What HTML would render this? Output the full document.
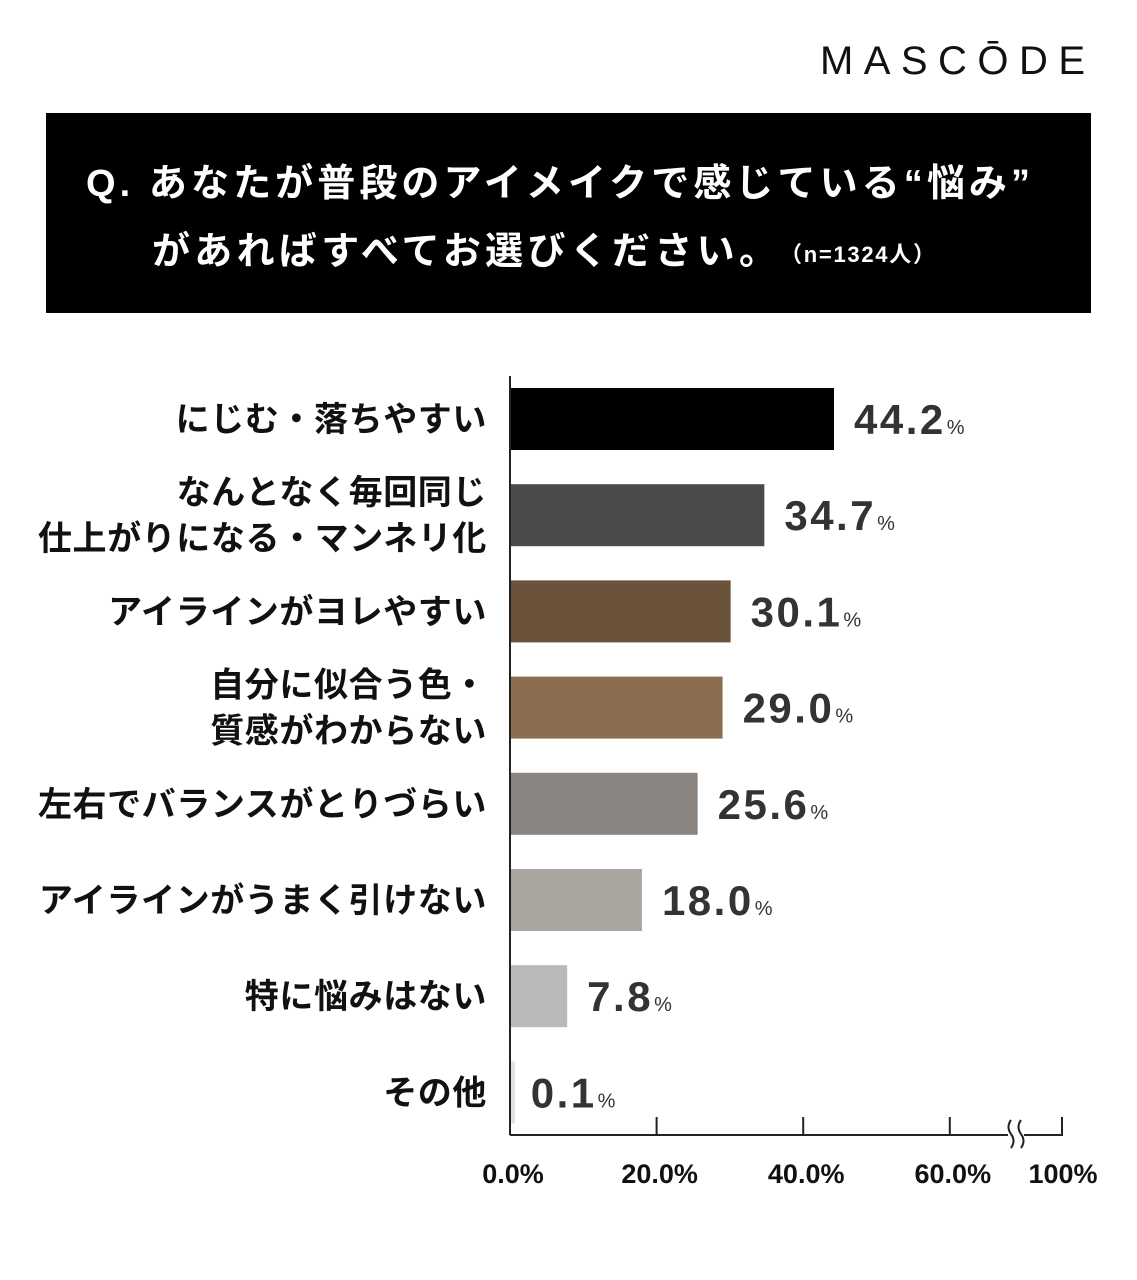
<!DOCTYPE html>
<html><head><meta charset="utf-8"><style>
body{margin:0;background:#fff;}
svg{display:block;font-family:"Liberation Sans","Noto Sans CJK JP",sans-serif;}
</style></head><body>
<svg id="chart" width="1137" height="1280" viewBox="0 0 1137 1280">
<text x="820" y="74" textLength="265" lengthAdjust="spacing" font-size="40" fill="#111">MASCŌDE</text>
<rect x="46" y="113" width="1045" height="200" fill="#000"/>
<text x="86" y="196" font-size="38" font-weight="bold" fill="#fff" textLength="944" lengthAdjust="spacing">Q. あなたが普段のアイメイクで感じている“悩み”</text>
<text x="152" y="264" font-size="38" font-weight="bold" fill="#fff" textLength="625" lengthAdjust="spacing">があればすべてお選びください。</text>
<text x="780" y="262" font-size="22" font-weight="bold" fill="#fff" textLength="155" lengthAdjust="spacing">（n=1324人）</text>
<g id="bars"></g>
<g id="axis"></g>
</svg>
<script>
const categories=[["にじむ・落ちやすい"],["なんとなく毎回同じ","仕上がりになる・マンネリ化"],["アイラインがヨレやすい"],["自分に似合う色・","質感がわからない"],["左右でバランスがとりづらい"],["アイラインがうまく引けない"],["特に悩みはない"],["その他"]];
const values=[44.2,34.7,30.1,29.0,25.6,18.0,7.8,0.1];
const colors=["#000000","#4a4a4a","#6b533b","#8b6e4f","#8a8580","#a9a59e","#b9b9b9","#e2e2e2"];
const tickValues=[0,20,40,60];
const tickLabels=["0.0%","20.0%","40.0%","60.0%"];
const NS="http://www.w3.org/2000/svg";
const x0=510,pxPer=7.33,top0=388,pitch=96.2,bh=62,axisY=1135;
const xs=v=>x0+v*pxPer;
const g=document.getElementById('bars'),ax=document.getElementById('axis');
function mk(tag,attrs,parent){const e=document.createElementNS(NS,tag);for(const k in attrs)e.setAttribute(k,attrs[k]);parent.appendChild(e);return e;}
values.forEach((v,i)=>{
 const y=top0+i*pitch;
 const r=mk('rect',{x:x0,y:y,width:Math.max(xs(v)-x0,5),height:bh,fill:colors[i]},g);
 
 
 const t=mk('text',{x:xs(v)+20,y:y+bh/2+15,'font-size':42,'font-weight':'bold',fill:'#333','letter-spacing':2.5},g);
 
 
 t.textContent=v.toFixed(1);
 const p=mk('tspan',{'font-size':20,dx:1,'font-weight':'normal','letter-spacing':0},t);p.textContent='%';
 const lines=categories[i];
 const lt=mk('text',{x:487,'text-anchor':'end','font-size':34,'font-weight':'bold',fill:'#111','letter-spacing':0.6},g);
 
 
 lines.forEach((s,j)=>{const ts=mk('tspan',{x:487,y:y+bh/2+12+(j-(lines.length-1)/2)*46},lt);ts.textContent=s;});
});
const yl=mk('line',{x1:x0,y1:376,x2:x0,y2:axisY,stroke:'#222','stroke-width':2},ax);

const xl=mk('path',{d:`M${x0} ${axisY}H1008M1024 ${axisY}H1062V1117`,stroke:'#222','stroke-width':2,fill:'none'},ax);

const br=mk('path',{d:`M1011 1120q-5 7 0 14t0 14M1021 1120q-5 7 0 14t0 14`,stroke:'#222','stroke-width':2,fill:'none'},ax);

tickValues.forEach((v,i)=>{
 if(v>0){const l=mk('line',{x1:xs(v),y1:1117,x2:xs(v),y2:axisY,stroke:'#222','stroke-width':2},ax);
 }
 const t=mk('text',{x:xs(v)+3,y:1183,'text-anchor':'middle','font-size':27,'font-weight':'bold',fill:'#111'},ax);
 
 t.textContent=tickLabels[i];
});
const t100=mk('text',{x:1063,y:1183,'text-anchor':'middle','font-size':27,'font-weight':'bold',fill:'#111'},ax);

t100.textContent='100%';
</script>
</body></html>
